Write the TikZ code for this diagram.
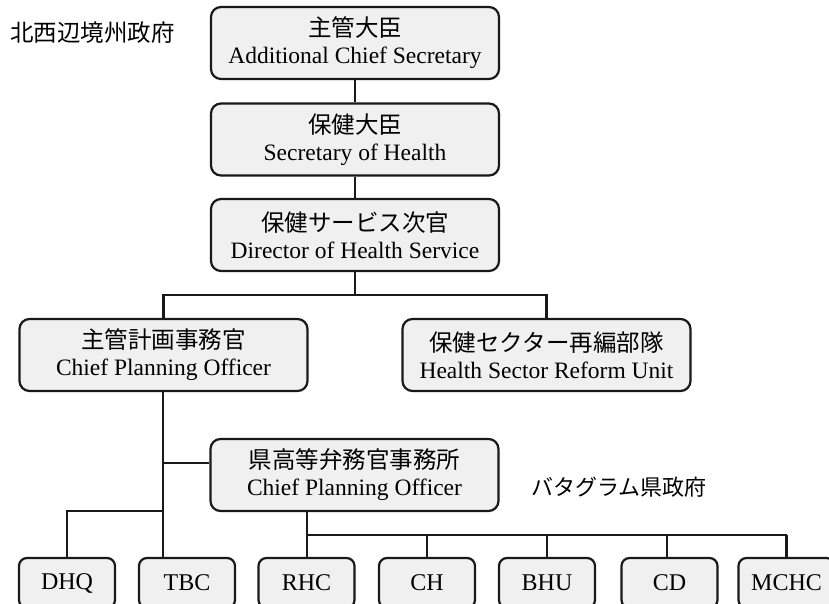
\documentclass[tikz,border=0pt]{standalone}
\usepackage{fontspec}
\setmainfont{Liberation Serif}
\newfontfamily\jp{Noto Sans CJK JP}
\newcommand{\jpt}[1]{{\jp\fontsize{23.5}{27}\selectfont #1}}
\begin{document}
\begin{tikzpicture}[x=1pt,y=-1pt,
  box/.style={draw=black!90, line width=2.2pt, rounded corners=10pt, fill=black!6,
    minimum width=288pt, minimum height=72pt, align=center, inner sep=0pt,
    font=\fontsize{23.5}{27}\selectfont},
  small/.style={draw=black!90, line width=2.2pt, rounded corners=8pt, fill=black!6,
    minimum width=96pt, minimum height=50pt, inner sep=0pt,
    font=\fontsize{24}{27}\selectfont},
  conn/.style={draw=black!90, line width=2.2pt},
  lab/.style={font=\jp\fontsize{23.5}{27}\selectfont, inner sep=0pt}]
\useasboundingbox (0,0) rectangle (829,604);
\clip (0,0) rectangle (829,604);
\fill[white] (0,0) rectangle (829,604);

\node[lab, anchor=west] (prov) at (10,33) {北西辺境州政府};
\node[lab, anchor=west, font=\jp\fontsize{22}{26}\selectfont] (dist) at (531,487) {バタグラム県政府};

\node[box] (b1) at (355,43) {\jpt{主管大臣}\\Additional Chief Secretary};
\node[box] (b2) at (355,139.5) {\jpt{保健大臣}\\Secretary of Health};
\node[box] (b3) at (355,235) {\jpt{保健サービス次官}\\Director of Health Service};
\node[box] (cpo) at (163.5,355) {\jpt{主管計画事務官}\\Chief Planning Officer};
\node[box] (hsru) at (546.5,355) {\jpt{保健セクター再編部隊}\\Health Sector Reform Unit};
\node[box] (dco) at (354.5,475) {\jpt{県高等弁務官事務所}\\Chief Planning Officer};

\node[small] (dhq) at (67,583) {DHQ};
\node[small] (tbc) at (187,583) {TBC};
\node[small] (rhc) at (306.5,583) {RHC};
\node[small] (ch) at (427,583) {CH};
\node[small] (bhu) at (547,583) {BHU};
\node[small] (cd) at (669.5,583) {CD};
\node[small] (mchc) at (786.5,583) {MCHC};

\coordinate (j1) at (355,295);
\coordinate (j2) at (163,463);
\coordinate (j3) at (163,511);
\coordinate (j4) at (307,535);
\coordinate (j5) at (667,535);

\draw[conn] (b1.south) -- (b2.north);
\draw[conn] (b2.south) -- (b3.north);
\draw[conn] (b3.south) -- (j1);
\draw[conn] (j1) -| (cpo.north);
\draw[conn] (j1) -| (hsru.north);
\draw[conn] (cpo.south -| j2) -- (tbc.north -| j2);
\draw[conn] (j2) -- (dco.west |- j2);
\draw[conn] (j3) -| (dhq.north);
\draw[conn] (dco.south -| j4) -- (j4);
\draw[conn] (j4) -- (j4 -| mchc.north);
\draw[conn] (j4) -- (rhc.north -| j4);
\draw[conn] (j4 -| ch.north) -- (ch.north);
\draw[conn] (j4 -| bhu.north) -- (bhu.north);
\draw[conn] (j5) -- (cd.north -| j5);
\draw[conn] (j4 -| mchc.north) -- (mchc.north);
\end{tikzpicture}
\end{document}
